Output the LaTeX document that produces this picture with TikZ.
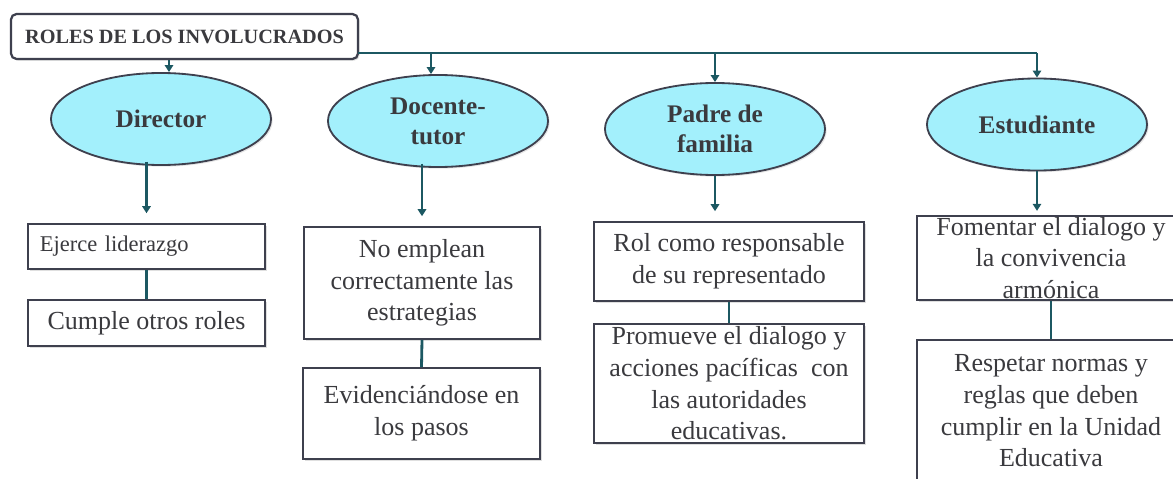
\documentclass[tikz,border=0pt]{standalone}
\usepackage{fontspec}
\setmainfont{Liberation Serif}
\usepackage{tikz}
\usetikzlibrary{arrows.meta, shapes.geometric, shadows}

\definecolor{roleline}{RGB}{28,88,98}
\definecolor{roleedge}{RGB}{62,64,78}
\definecolor{rolefill}{RGB}{163,240,252}
\definecolor{roletext}{RGB}{58,58,62}

\begin{document}
\begin{tikzpicture}[x=0.025cm, y=-0.025cm,
    rolebox/.style={draw=roleedge, line width=1.3pt, fill=white, rectangle, inner sep=0pt, align=center,
        text=roletext, font=\fontsize{18.5}{22.5}\selectfont,
        drop shadow={shadow xshift=1.2pt, shadow yshift=-1.2pt, opacity=0.25}},
    roleoval/.style={draw=roleedge, line width=1.3pt, fill=rolefill, ellipse, minimum width=5.5cm, minimum height=2.3cm,
        inner sep=0pt, align=center, text=roletext, font=\bfseries\fontsize{18}{21.5}\selectfont,
        drop shadow={shadow xshift=1.2pt, shadow yshift=-1.2pt, opacity=0.2}},
    link/.style={draw=roleline, line width=2pt},
    arr/.style={link, -{Triangle[width=6pt,length=5pt]}}]
    \useasboundingbox (0,0) rectangle (1173,479);
    \clip (0,0) rectangle (1173,479);

    \node[rolebox, line width=1.6pt, rounded corners=4pt, minimum width=8.675cm, minimum height=1.125cm, font=\bfseries\fontsize{14.4}{16}\selectfont] at (184.5, 36.5) (root) {ROLES DE LOS INVOLUCRADOS};

    \node[roleoval] at (161, 119) (L1N1) {Director};
    \node[roleoval] at (438, 121) (L1N2) {Docente-\\tutor};
    \node[roleoval] at (715, 129) (L1N3) {Padre de\\familia};
    \node[roleoval] at (1037, 124.5) (L1N4) {Estudiante};

    \node[rolebox, align=left, text width=5.325cm, inner xsep=0.3cm, minimum height=1.125cm, font=\fontsize{16}{19}\selectfont] at (146.5, 246.5) (L2N1) {Ejerce liderazgo};
    \node[rolebox, minimum width=5.9cm, minimum height=2.8cm] at (422, 283) (L2N2) {No emplean\\correctamente las\\estrategias};
    \node[rolebox, minimum width=6.75cm, minimum height=1.975cm] at (729, 261.5) (L2N3) {Rol como responsable\\de su representado};
    \node[rolebox, minimum width=6.7cm, minimum height=2.1cm] at (1051, 258) (L2N4) {Fomentar el dialogo y\\la convivencia\\armónica};

    \node[rolebox, minimum width=5.925cm, minimum height=1.15cm] at (146.5, 323) (L3N1) {Cumple otros roles};
    \node[rolebox, minimum width=5.925cm, minimum height=2.275cm] at (421.5, 413.5) (L3N2) {Evidenciándose en\\los pasos};
    \node[rolebox, minimum width=6.75cm, minimum height=2.975cm] at (729, 383.5) (L3N3) {Promueve el dialogo y\\acciones pacíficas~ con\\las autoridades\\educativas.};
    \node[rolebox, minimum width=6.7cm, minimum height=3.55cm] at (1051, 411) (L3N4) {Respetar normas y\\reglas que deben\\cumplir en la Unidad\\Educativa};

    % bus from the title box to the four roles
    \coordinate (bus1) at (358, 53);
    \coordinate (x1) at (169, 0);
    \coordinate (x2) at (431, 0);
    \draw[link] (bus1) -- (bus1 -| L1N4.north);
    \draw[arr] (root.south -| x1) -- (L1N1.north -| x1);
    \draw[arr] (bus1 -| x2) -- (L1N2.north -| x2);
    \draw[arr] (bus1 -| L1N3.north) -- (L1N3.north);
    \draw[arr] (bus1 -| L1N4.north) -- (L1N4.north);

    \draw[arr, shorten <=-3pt, shorten >=7pt] (L1N1.south -| L2N1.north) -- (L2N1.north);
    \draw[arr, shorten <=-3pt, shorten >=7pt] (L1N2.south -| L2N2.north) -- (L2N2.north);
    \draw[arr, shorten >=7pt] (L1N3.south) -- (L1N3.south |- L2N3.north);
    \draw[arr, shorten >=3pt] (L1N4.south) -- (L1N4.south |- L2N4.north);

    \draw[link] (L2N1.south) -- (L3N1.north);
    \draw[link] (L2N2.south) -- (L3N2.north);
    \draw[link] (L2N3.south) -- (L3N3.north);
    \draw[link] (L2N4.south) -- (L3N4.north);
\end{tikzpicture}
\end{document}
